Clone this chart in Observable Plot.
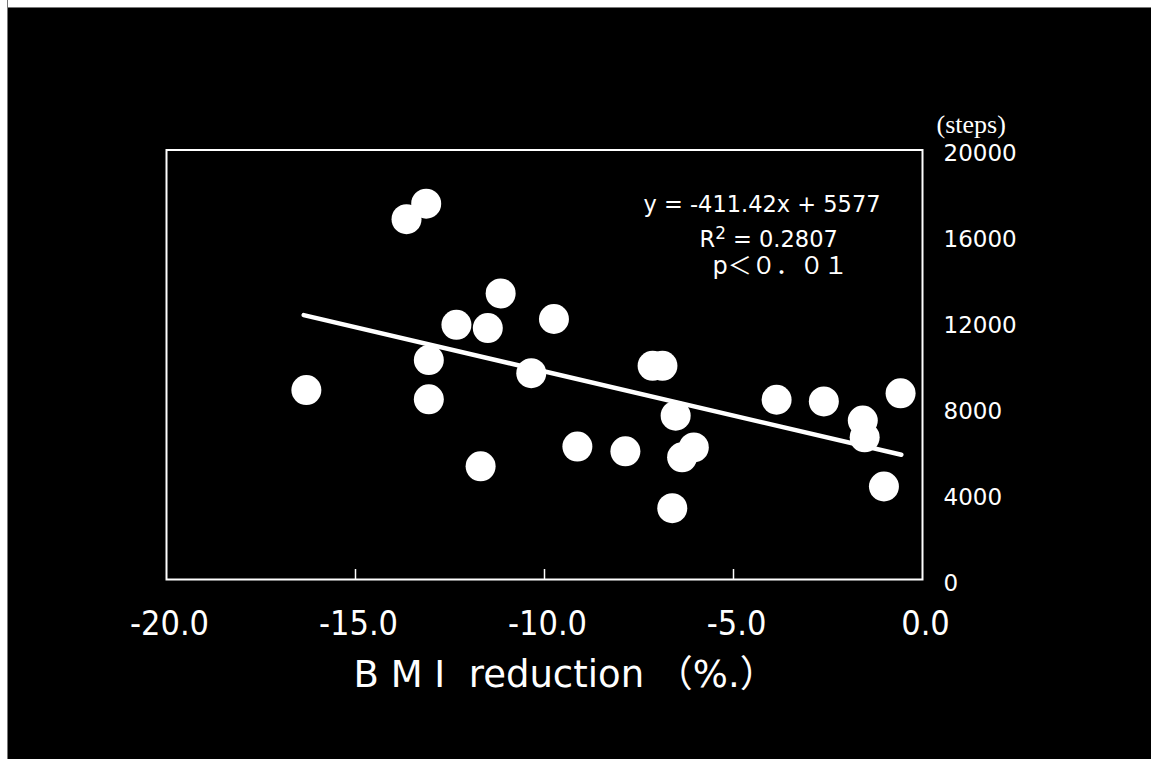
<!DOCTYPE html>
<html>
<head>
<meta charset="utf-8">
<script src="https://cdn.jsdelivr.net/npm/d3@7"></script>
<script src="https://cdn.jsdelivr.net/npm/@observablehq/plot@0.6"></script>
<style>
  html, body { margin: 0; padding: 0; background: #000000; overflow: hidden; }
  /* light strips along the top and left edges of the slide */
  #edgeTop { position: absolute; left: 0; top: 0; width: 100%; height: 7px; background: #ffffff; border-bottom: 1px solid #777; box-sizing: content-box; }
  #edgeLeft { position: absolute; left: 0; top: 0; width: 7px; height: 100%; background: #ffffff; border-right: 1px solid #777; }
  #panel { position: absolute; left: 7px; top: 7px; width: 1144px; height: 752px; }
</style>
</head>
<body>
<div id="edgeTop"></div>
<div id="edgeLeft"></div>
<div id="panel"></div>
<script>
// BMI reduction (%) against daily step count, one dot per participant
const bmiReduction = [
  -16.30, -13.65, -13.13, -13.06, -13.06, -12.33, -11.50, -11.69, -11.16, -10.35,
  -9.75, -9.13, -7.86, -7.14, -6.88, -6.53, -6.62, -6.36, -6.05, -3.86,
  -2.61, -1.58, -1.53, -1.02, -0.58
];
const dailySteps = [
  8820, 16780, 17500, 10220, 8390, 11860, 11710, 5270, 13320, 9610,
  12130, 6190, 5970, 9950, 9950, 7630, 3320, 5690, 6150, 8370,
  8290, 7400, 6620, 4330, 8670
];

// Least-squares fit reported on the chart
const fitSlope = -411.42;
const fitIntercept = 5577;
const fitRange = [-16.37, -0.56];
const fitText = ["y = -411.42x + 5577", "R² = 0.2807", "p＜０．０１"];

// Axis ticks
const xTicks = [-20, -15, -10, -5, 0];
const xInnerTicks = [-15, -10, -5];
const yTicks = [0, 4000, 8000, 12000, 16000, 20000];
const yUnit = "(steps)";
const xTitle = "B M I  reduction （%.）";

const points = bmiReduction.map((x, i) => ({x, y: dailySteps[i]}));
const fitLine = fitRange.map(x => ({x, y: fitSlope * x + fitIntercept}));

const W = 1144, H = 752;
const mLeft = 159, mRight = 229, mTop = 142.5, mBottom = 180;
const frameH = H - mTop - mBottom;

const sans = "'DejaVu Sans', Verdana, sans-serif";
const cjk = "'DejaVu Sans', 'Noto Sans CJK JP', sans-serif";
const narrow = "'DejaVu Sans Condensed', 'DejaVu Sans', sans-serif";

const chart = Plot.plot({
  width: W,
  height: H,
  marginLeft: mLeft,
  marginRight: mRight,
  marginTop: mTop,
  marginBottom: mBottom,
  style: {background: "transparent", color: "#ffffff", fontFamily: sans, overflow: "visible"},
  x: {domain: [-20, 0], label: null},
  y: {domain: [0, 20000], label: null},
  marks: [
    Plot.frame({stroke: "#ffffff", strokeWidth: 2}),
    Plot.tickX(xInnerTicks, {x: d => d, stroke: "#ffffff", strokeWidth: 1.5, insetTop: frameH - 10}),
    Plot.axisX({
      anchor: "bottom", ticks: xTicks, tickSize: 0, tickPadding: 31,
      tickFormat: d => d.toFixed(1), fontSize: 34, fontFamily: narrow,
      fontStretch: "condensed", dx: 3, fill: "#ffffff"
    }),
    Plot.axisY({
      anchor: "right", ticks: yTicks, tickSize: 0, tickPadding: 21,
      tickFormat: d => String(d), fontSize: 23, fontFamily: sans,
      textAnchor: "start", dy: 4, fill: "#ffffff"
    }),
    Plot.line(fitLine, {x: "x", y: "y", stroke: "#ffffff", strokeWidth: 4.5, strokeLinecap: "round"}),
    Plot.dot(points, {x: "x", y: "y", r: 15, fill: "#ffffff", stroke: "none"}),
    // regression annotation in the upper right of the frame
    Plot.text([fitText[0]], {frameAnchor: "top-left", dx: 477, dy: 46, text: d => d,
      textAnchor: "start", fontSize: 22.5, fontFamily: sans, fill: "#ffffff"}),
    Plot.text([fitText[1]], {frameAnchor: "top-left", dx: 533, dy: 81, text: d => d,
      textAnchor: "start", fontSize: 22.5, fontFamily: sans, fill: "#ffffff", className: "r2"}),
    Plot.text([fitText[2]], {frameAnchor: "top-left", dx: 546, dy: 107, text: d => d,
      textAnchor: "start", fontSize: 24, fontFamily: cjk, fill: "#ffffff"}),
    // unit of the right-hand axis
    Plot.text([yUnit], {frameAnchor: "top-right", dx: 14, dy: -35, text: d => d,
      textAnchor: "start", fontSize: 26, fontFamily: "'Liberation Serif', 'Times New Roman', serif",
      letterSpacing: "1px", fill: "#ffffff"}),
    // x-axis title
    Plot.text([xTitle], {frameAnchor: "bottom-left", dx: 187, dy: 107.5, text: d => d,
      textAnchor: "start", fontSize: 37, fontFamily: cjk, fill: "#ffffff"})
  ]
});

// draw the "2" of R² as a real superscript
d3.select(chart).selectAll("text").filter(function() { return this.textContent === fitText[1]; })
  .each(function() {
    const t = d3.select(this);
    t.text(null);
    t.append("tspan").text("R");
    t.append("tspan").attr("dy", "-0.45em").attr("font-size", "0.75em").text("2");
    t.append("tspan").attr("dy", "0.34em").text(" = 0.2807");
  });

document.getElementById("panel").appendChild(chart);
</script>
</body>
</html>
